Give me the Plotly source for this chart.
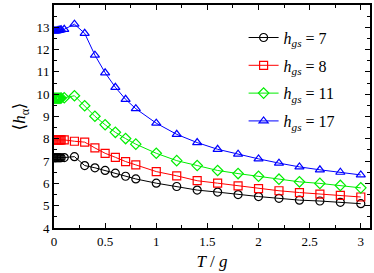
import plotly.graph_objects as go

T = [0.0, 0.01, 0.02, 0.03, 0.04, 0.05, 0.06, 0.07, 0.1, 0.2, 0.3, 0.4, 0.5, 0.6, 0.7, 0.8,
     1.0, 1.2, 1.4, 1.6, 1.8, 2.0, 2.2, 2.4, 2.6, 2.8, 3.0]

h7 = [7.15, 7.15, 7.15, 7.15, 7.15, 7.15, 7.15, 7.15, 7.16, 7.2, 6.8, 6.7, 6.58, 6.46, 6.32, 6.2,
      6.01, 5.86, 5.70, 5.61, 5.50, 5.41, 5.33, 5.25, 5.21, 5.15, 5.09]
h8 = [7.95, 7.95, 7.95, 7.95, 7.95, 7.95, 7.95, 7.95, 7.95, 7.89, 7.85, 7.59, 7.35, 7.17, 6.98, 6.83,
      6.53, 6.34, 6.12, 6.01, 5.89, 5.77, 5.67, 5.59, 5.52, 5.46, 5.39]
h11 = [9.82, 9.82, 9.82, 9.82, 9.82, 9.82, 9.82, 9.83, 9.84, 9.93, 9.48, 9.01, 8.63, 8.29, 8.01, 7.76,
       7.35, 7.02, 6.80, 6.58, 6.44, 6.32, 6.19, 6.07, 6.00, 5.91, 5.80]
h17 = [12.84, 12.84, 12.84, 12.85, 12.86, 12.87, 12.88, 12.89, 12.91, 13.14, 12.73, 11.75, 10.96, 10.31, 9.77, 9.35,
       8.70, 8.20, 7.83, 7.53, 7.31, 7.10, 6.91, 6.74, 6.61, 6.50, 6.38]

series = [
    ("7", h7, "black", "circle-open"),
    ("8", h8, "#ff0000", "square-open"),
    ("11", h11, "#00ee00", "diamond-open"),
    ("17", h17, "#0000ff", "triangle-up-open"),
]

fig = go.Figure()
for name, vals, col, sym in series:
    fig.add_trace(go.Scatter(
        x=T, y=vals, mode="lines+markers",
        name=f"<i>h<sub>gs</sub></i> = {name}",
        legendgroup=name,
        line=dict(color=col, width=1),
        marker=dict(symbol=sym, size=8, color=col, line=dict(color=col, width=1.2)),
    ))

serif = "'Liberation Serif', 'DejaVu Serif', serif"
axis_common = dict(
    showline=True, linecolor="black", linewidth=2, mirror="ticks",
    ticks="inside", ticklen=5, tickcolor="black", tickwidth=1,
    showgrid=False, zeroline=False,
    tickfont=dict(family=serif, size=13, color="black"),
)
fig.update_xaxes(range=[0, 3.09], tick0=0, dtick=0.5,
                 minor=dict(ticks="inside", ticklen=3, dtick=0.25, tickcolor="black", showgrid=False),
                 title=dict(text="<i>T</i> / <i>g</i>", font=dict(family=serif, size=17, color="black"), standoff=8),
                 **axis_common)
fig.update_yaxes(range=[4, 14], tick0=4, dtick=1,
                 minor=dict(ticks="inside", ticklen=3, dtick=0.5, tickcolor="black", showgrid=False),
                 title=dict(text="⟨<i>h</i><sub>α</sub>⟩", font=dict(family=serif, size=17, color="black"), standoff=6),
                 **axis_common)

fig.update_layout(
    width=374, height=273,
    margin=dict(l=54, r=2, t=5, b=45),
    plot_bgcolor="white", paper_bgcolor="white",
    showlegend=True,
    font=dict(family=serif, color="black"),
    legend=dict(x=0.6, y=0.93, xanchor="left", yanchor="top",
                font=dict(family=serif, size=16, color="black"),
                bgcolor="rgba(0,0,0,0)", tracegroupgap=4, itemwidth=30),
)

fig.write_html("out.html", config={"displayModeBar": False},
               post_script="document.body.style.margin='0';document.body.style.overflow='hidden';")
